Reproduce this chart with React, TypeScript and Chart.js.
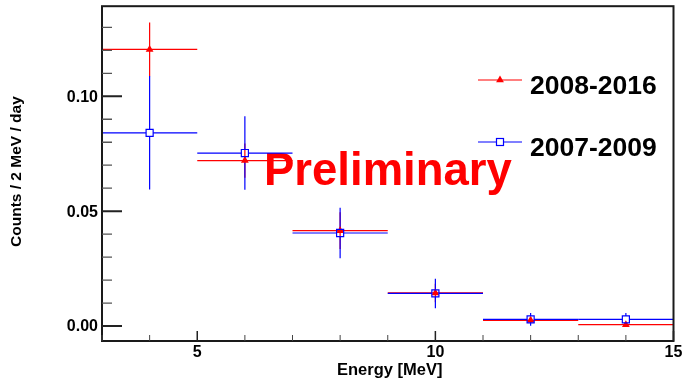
import React, { useEffect, useRef } from 'react';
import { Chart, registerables } from 'chart.js';

Chart.register(...registerables);

// ---------- data ----------
const energyCenters = [4, 6, 8, 10, 12, 14];
const energyHalfWidths = [1, 1, 1, 1, 1, 1];

const rates2008_2016 = [0.1204, 0.072, 0.0415, 0.0144, 0.0025, 0.0006];
const errors2008_2016 = [0.0117, 0.0075, 0.008, 0.004, 0.0012, 0.001];

const rates2007_2009 = [0.0841, 0.0753, 0.0405, 0.0142, 0.0029, 0.0029];
const errors2007_2009 = [0.0247, 0.016, 0.011, 0.0064, 0.0028, 0.0028];

const seriesLabels = ['2008-2016', '2007-2009'];
const seriesColors = ['#ff0000', '#0000ff'];

const xMajorTicks = [5, 10, 15];
const xMajorTickLabels = ['5', '10', '15'];
const xMinorTicks = [3, 4, 6, 7, 8, 9, 11, 12, 13, 14];
const yMajorTicks = [0, 0.05, 0.1];
const yMajorTickLabels = ['0.00', '0.05', '0.10'];
const yMinorTicks = [0.01, 0.02, 0.03, 0.04, 0.06, 0.07, 0.08, 0.09, 0.11, 0.12, 0.13];

const xAxisTitle = 'Energy [MeV]';
const yAxisTitle = 'Counts / 2 MeV / day';
const watermarkText = 'Preliminary';

const X_MIN = 3;
const X_MAX = 15;
const Y_MIN = -0.0065;
const Y_MAX = 0.1392;

const FONT = '"Liberation Sans", Arial, Helvetica, sans-serif';

function drawTriangle(ctx: CanvasRenderingContext2D, x: number, y: number, r: number, color: string) {
  ctx.save();
  ctx.fillStyle = color;
  ctx.beginPath();
  ctx.moveTo(x, y - r);
  ctx.lineTo(x + r * Math.sin((2 * Math.PI) / 3), y + r / 2);
  ctx.lineTo(x - r * Math.sin((2 * Math.PI) / 3), y + r / 2);
  ctx.closePath();
  ctx.fill();
  ctx.restore();
}

function drawSquare(ctx: CanvasRenderingContext2D, x: number, y: number, half: number, color: string) {
  ctx.save();
  ctx.strokeStyle = color;
  ctx.lineWidth = 1.2;
  ctx.strokeRect(x - half, y - half, half * 2, half * 2);
  ctx.restore();
}

const rootStylePlugin = {
  id: 'rootStyle',
  beforeDatasetsDraw(chart: any) {
    const ctx: CanvasRenderingContext2D = chart.ctx;
    const xs = chart.scales.x;
    const ys = chart.scales.y;
    const area = chart.chartArea;

    // watermark (drawn below the data)
    ctx.save();
    ctx.fillStyle = '#ff0000';
    ctx.font = `bold 45.5px ${FONT}`;
    ctx.textAlign = 'left';
    ctx.textBaseline = 'alphabetic';
    ctx.fillText(watermarkText, area.left + 162, area.top + 179);
    ctx.restore();

    const drawErrors = (vals: number[], errs: number[], color: string, gap: number) => {
      ctx.save();
      ctx.strokeStyle = color;
      ctx.lineWidth = 1.2;
      for (let i = 0; i < vals.length; i++) {
        const cx = xs.getPixelForValue(energyCenters[i]);
        const cy = ys.getPixelForValue(vals[i]);
        const xl = xs.getPixelForValue(energyCenters[i] - energyHalfWidths[i]);
        const xr = xs.getPixelForValue(energyCenters[i] + energyHalfWidths[i]);
        const yt = ys.getPixelForValue(vals[i] + errs[i]);
        const yb = ys.getPixelForValue(vals[i] - errs[i]);
        ctx.beginPath();
        ctx.moveTo(xl, cy);
        ctx.lineTo(cx - gap, cy);
        ctx.moveTo(cx + gap, cy);
        ctx.lineTo(xr, cy);
        if (yt < cy - gap) {
          ctx.moveTo(cx, yt);
          ctx.lineTo(cx, cy - gap);
        }
        if (yb > cy + gap) {
          ctx.moveTo(cx, cy + gap);
          ctx.lineTo(cx, yb);
        }
        ctx.stroke();
      }
      ctx.restore();
    };
    drawErrors(rates2008_2016, errors2008_2016, seriesColors[0], 0);
    drawErrors(rates2007_2009, errors2007_2009, seriesColors[1], 3.5);
  },
  afterDraw(chart: any) {
    const ctx: CanvasRenderingContext2D = chart.ctx;
    const xs = chart.scales.x;
    const ys = chart.scales.y;
    const area = chart.chartArea;
    ctx.save();

    // frame
    ctx.strokeStyle = '#1a1a1a';
    ctx.lineWidth = 2;
    ctx.strokeRect(area.left, area.top, area.right - area.left, area.bottom - area.top);

    // y ticks
    ctx.strokeStyle = '#222';
    ctx.lineWidth = 2;
    ctx.beginPath();
    yMajorTicks.forEach((v) => {
      const y = ys.getPixelForValue(v);
      ctx.moveTo(area.left, y);
      ctx.lineTo(area.left + 20, y);
    });
    ctx.stroke();
    ctx.strokeStyle = '#555';
    ctx.lineWidth = 1.3;
    ctx.beginPath();
    yMinorTicks.forEach((v) => {
      const y = ys.getPixelForValue(v);
      ctx.moveTo(area.left, y);
      ctx.lineTo(area.left + 10, y);
    });
    ctx.stroke();

    // x ticks
    ctx.strokeStyle = '#222';
    ctx.lineWidth = 1.5;
    ctx.beginPath();
    xMajorTicks.forEach((v) => {
      const x = xs.getPixelForValue(v);
      ctx.moveTo(x, area.bottom);
      ctx.lineTo(x, area.bottom - 10);
    });
    ctx.stroke();
    ctx.strokeStyle = '#444';
    ctx.lineWidth = 1;
    ctx.beginPath();
    xMinorTicks.forEach((v) => {
      const x = xs.getPixelForValue(v);
      ctx.moveTo(x, area.bottom);
      ctx.lineTo(x, area.bottom - 6);
    });
    ctx.stroke();

    // tick labels
    ctx.fillStyle = '#000';
    ctx.font = `bold 16px ${FONT}`;
    ctx.textAlign = 'right';
    ctx.textBaseline = 'middle';
    yMajorTicks.forEach((v, i) => {
      ctx.fillText(yMajorTickLabels[i], area.left - 4, ys.getPixelForValue(v) + 1);
    });
    ctx.textAlign = 'center';
    ctx.textBaseline = 'alphabetic';
    xMajorTicks.forEach((v, i) => {
      ctx.fillText(xMajorTickLabels[i], xs.getPixelForValue(v), area.bottom + 16);
    });

    // axis titles
    ctx.font = `bold 16.5px ${FONT}`;
    ctx.fillText(xAxisTitle, (area.left + area.right) / 2 + 2, area.bottom + 34);
    ctx.save();
    ctx.font = `bold 15.5px ${FONT}`;
    ctx.translate(20.5, (area.top + area.bottom) / 2 - 2);
    ctx.rotate(-Math.PI / 2);
    ctx.textAlign = 'center';
    ctx.fillText(yAxisTitle, 0, 0);
    ctx.restore();

    // legend
    const legendRows = [80, 142];
    const lx0 = 478;
    const lx1 = 522;
    ctx.font = `bold 26.5px ${FONT}`;
    ctx.textAlign = 'left';
    ctx.textBaseline = 'alphabetic';
    seriesLabels.forEach((label, i) => {
      const y = legendRows[i];
      ctx.strokeStyle = seriesColors[i];
      ctx.lineWidth = 1.2;
      ctx.beginPath();
      if (i === 0) {
        ctx.moveTo(lx0, y);
        ctx.lineTo(lx1, y);
      } else {
        ctx.moveTo(lx0, y);
        ctx.lineTo(500 - 3.5, y);
        ctx.moveTo(500 + 3.5, y);
        ctx.lineTo(lx1, y);
      }
      ctx.stroke();
      if (i === 0) drawTriangle(ctx, 500, y, 4.5, seriesColors[0]);
      else drawSquare(ctx, 500, y, 3.5, seriesColors[1]);
      ctx.fillStyle = '#000';
      ctx.fillText(label, 530, y + 14);
    });

    ctx.restore();
  },
};

export default function App() {
  const canvasRef = useRef<HTMLCanvasElement | null>(null);

  useEffect(() => {
    if (!canvasRef.current) return;
    const chart = new Chart(canvasRef.current, {
      type: 'scatter',
      data: {
        datasets: [
          {
            label: seriesLabels[1],
            data: energyCenters.map((x, i) => ({ x, y: rates2007_2009[i] })),
            pointStyle: 'rect',
            pointRadius: 5,
            pointBorderWidth: 1.2,
            borderColor: seriesColors[1],
            backgroundColor: 'rgba(0,0,0,0)',
            showLine: false,
          },
          {
            label: seriesLabels[0],
            data: energyCenters.map((x, i) => ({ x, y: rates2008_2016[i] })),
            pointStyle: 'triangle',
            pointRadius: 4.5,
            pointBorderWidth: 0,
            borderColor: seriesColors[0],
            backgroundColor: seriesColors[0],
            showLine: false,
          },
        ],
      },
      options: {
        responsive: false,
        animation: false,
        layout: { padding: { left: 102, right: 9.5, top: 6, bottom: 39 } },
        scales: {
          x: { type: 'linear', min: X_MIN, max: X_MAX, display: false },
          y: { type: 'linear', min: Y_MIN, max: Y_MAX, display: false },
        },
        plugins: {
          legend: { display: false },
          tooltip: { enabled: false },
        },
      },
      plugins: [rootStylePlugin],
    } as any);
    return () => chart.destroy();
  }, []);

  return (
    <div style={{ position: 'absolute', left: 0, top: 0, width: 683, height: 380, background: '#fff' }}>
      <canvas ref={canvasRef} width={683} height={380} style={{ display: 'block' }} />
    </div>
  );
}
